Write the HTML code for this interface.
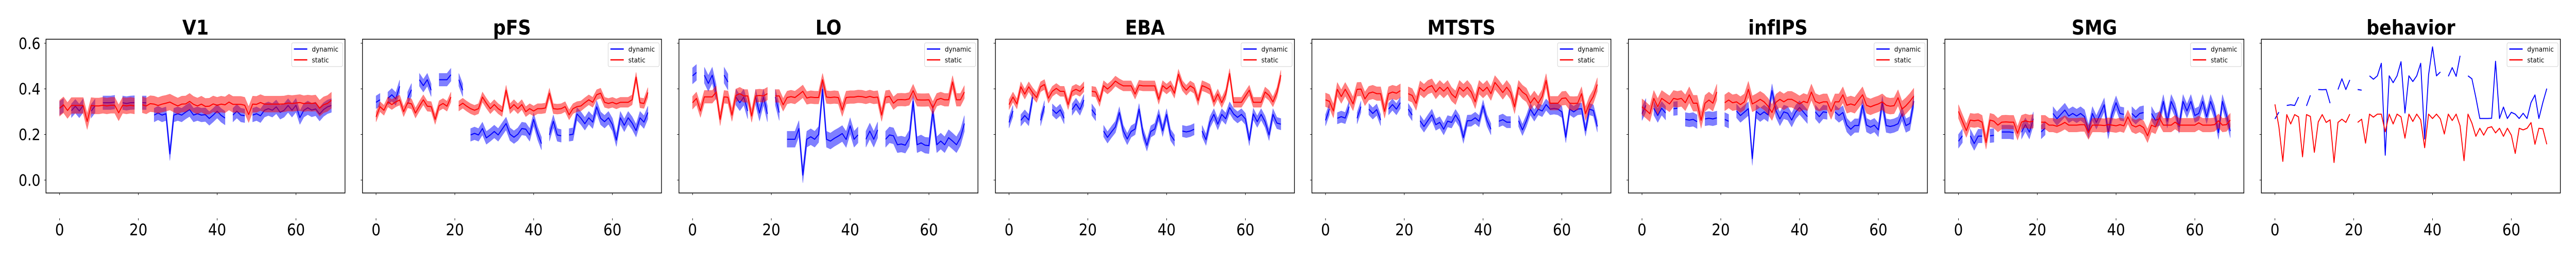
<!DOCTYPE html>
<html><head><meta charset="utf-8">
<style>
html,body{margin:0;padding:0;background:#fff;overflow:hidden;width:100vw;height:100vh;}
svg{display:block;width:100vw;height:100vh;font-family:"DejaVu Sans","Liberation Sans",sans-serif;}
</style></head>
<body>
<svg id="fig" viewBox="0 0 5600 500" preserveAspectRatio="none" xmlns="http://www.w3.org/2000/svg"></svg>
<script>
const titles = ["V1","pFS","LO","EBA","MTSTS","infIPS","SMG","behavior"];
const xTicks = [0,20,40,60];
const yTicks = [0.0,0.2,0.4,0.6];
const yTickLabels = ["0.0","0.2","0.4","0.6"];
const semStatic = [0.035,0.022,0.028,0.022,0.03,0.035,0.03,0];
const semDynamic = [0.03,0.028,0.035,0.025,0.025,0.03,0.03,0];
const N = null;
const staticV1 = [.315,.33,.305,.327,.327,.327,.327,.257,.327,.325,.325,.328,.325,.328,.328,.295,.328,.325,.328,.325,N,.33,.325,.335,.333,.327,.333,.337,.342,.333,.325,.333,.334,.345,.332,.325,.333,.323,.324,.334,.328,.333,.33,.342,.332,.332,.332,.328,.287,.333,.332,.34,.333,.333,.333,.333,.333,.334,.338,.336,.338,.34,.335,.338,.336,.338,.315,.33,.336,.35];
const dynamicV1 = [.315,.328,N,.304,.324,.303,.327,N,.302,.325,N,.339,.339,.339,.342,N,.339,.336,.339,.34,N,.339,.339,N,.285,.294,.285,.291,.115,.285,.291,.285,.298,.309,.285,.291,.285,.287,.27,.285,.302,.284,.272,N,.285,.302,.285,.282,N,.285,.291,.282,.306,.313,.306,.321,.297,.306,.327,.306,.328,.274,.306,.317,.307,.312,.289,.309,.321,.327];
const staticPFS = [.277,.322,.306,.343,.331,.343,.351,.300,.339,.334,.294,.324,.352,.324,.322,.266,.326,.336,.324,.364,N,.325,.337,.324,.313,.306,.313,.364,.337,.313,.331,.313,.301,.394,.313,.331,.313,.331,.300,.313,.303,.313,.313,.316,.381,.313,.311,.313,.322,.286,.313,.322,.325,.339,.352,.341,.374,.381,.341,.336,.341,.334,.341,.341,.341,.352,.451,.339,.336,.384];
const dynamicPFS = [.341,.352,N,.358,.374,.356,.411,N,.358,.396,N,.44,.414,.44,.394,N,.44,.44,.44,.462,N,.44,.394,N,.198,.205,.198,.226,.185,.198,.213,.198,.223,.248,.201,.188,.201,.226,.223,.198,.266,.205,.16,N,.198,.258,.198,.194,N,.198,.201,.29,.271,.247,.273,.254,.321,.271,.256,.273,.243,.175,.273,.24,.273,.25,.217,.273,.254,.296];
const staticLO = [.339,.358,.303,.365,.365,.365,.386,.266,.365,.363,.285,.371,.379,.369,.369,.281,.369,.371,.369,.379,N,.369,.369,.33,.362,.366,.362,.375,.389,.360,.364,.362,.362,.44,.364,.362,.364,.362,.307,.362,.364,.364,.367,.366,.362,.367,.362,.364,.285,.364,.367,.337,.352,.353,.352,.356,.392,.352,.351,.351,.352,.316,.352,.358,.352,.352,.43,.352,.352,.386];
const dynamicLO = [.457,.472,N,.46,.424,.46,.384,N,.46,.43,N,.364,.339,.364,.303,N,.364,.294,.364,.29,N,.364,.296,N,.179,.179,.179,.226,.022,.179,.19,.179,.2,.398,.179,.171,.183,.193,.204,.178,.238,.179,.198,N,.179,.215,.179,.22,N,.179,.198,.194,.155,.158,.153,.183,.345,.155,.163,.153,.151,.301,.155,.171,.155,.186,.171,.155,.186,.248];
const staticEBA = [.331,.364,.334,.409,.377,.409,.383,.362,.409,.419,.359,.389,.402,.389,.389,.331,.389,.398,.389,.409,N,.389,.386,.345,.414,.399,.414,.434,.422,.413,.413,.413,.377,.416,.413,.413,.413,.413,.354,.414,.399,.414,.381,.464,.414,.394,.413,.402,.349,.414,.407,.398,.343,.377,.339,.377,.467,.341,.341,.341,.368,.394,.341,.341,.341,.386,.371,.343,.384,.46];
const dynamicEBA = [.253,.303,N,.262,.283,.263,.364,N,.262,.324,N,.309,.292,.308,.271,N,.309,.334,.309,.351,N,.309,.285,N,.215,.187,.211,.233,.296,.216,.180,.213,.224,.311,.205,.152,.213,.224,.286,.216,.288,.198,.173,N,.215,.211,.215,.223,N,.215,.177,.254,.288,.245,.288,.269,.318,.290,.275,.288,.268,.175,.290,.256,.288,.256,.198,.288,.250,.245];
const staticMTSTS = [.352,.345,.303,.398,.366,.398,.368,.334,.398,.399,.356,.381,.386,.379,.379,.301,.379,.386,.381,.392,N,.379,.371,.336,.405,.39,.407,.414,.386,.407,.39,.407,.377,.361,.407,.39,.407,.386,.343,.407,.39,.407,.379,.428,.407,.384,.407,.384,.321,.407,.386,.373,.337,.361,.337,.367,.437,.337,.337,.337,.358,.360,.337,.336,.337,.379,.291,.337,.367,.419];
const dynamicMTSTS = [.262,.311,N,.271,.278,.272,.322,N,.271,.322,N,.311,.292,.309,.263,N,.311,.331,.311,.339,N,.311,.285,N,.260,.235,.261,.286,.243,.253,.223,.258,.253,.285,.258,.186,.260,.261,.273,.258,.326,.261,.223,N,.258,.265,.254,.254,N,.260,.220,.260,.311,.283,.311,.303,.331,.311,.314,.311,.299,.188,.311,.299,.311,.313,.217,.311,.305,.235];
const staticInfIPS = [.321,.307,.291,.358,.322,.358,.346,.334,.358,.354,.358,.339,.374,.337,.337,.262,.337,.351,.337,.386,N,.339,.351,.339,.343,.331,.343,.398,.334,.343,.354,.343,.324,.296,.341,.354,.343,.354,.354,.345,.334,.345,.339,.386,.345,.337,.343,.343,.301,.343,.343,.374,.328,.334,.328,.351,.374,.328,.321,.328,.334,.343,.328,.324,.326,.361,.311,.326,.345,.368];
const dynamicInfIPS = [.291,.328,N,.315,.283,.315,.294,N,.313,.315,N,.266,.263,.266,.256,N,.268,.271,.268,.273,N,.266,.258,N,.303,.283,.298,.313,.094,.301,.286,.299,.286,.392,.305,.268,.299,.293,.263,.298,.318,.298,.278,N,.299,.278,.299,.296,N,.299,.283,.296,.241,.223,.239,.239,.328,.241,.232,.241,.220,.339,.239,.235,.239,.247,.291,.239,.248,.346];
const staticSMG = [.301,.258,.217,.263,.260,.263,.254,.165,.263,.258,.241,.254,.255,.254,.254,.205,.254,.260,.255,.258,N,.254,.254,.241,.241,.236,.243,.253,.241,.241,.241,.243,.243,.208,.241,.241,.241,.239,.243,.241,.238,.243,.238,.277,.241,.233,.241,.230,.194,.241,.233,.273,.241,.241,.241,.254,.241,.241,.241,.241,.241,.251,.241,.241,.241,.243,.260,.241,.243,.263];
const dynamicSMG = [.170,.194,N,.194,.160,.193,.193,N,.194,.196,N,.211,.211,.211,.208,N,.210,.243,.210,.269,N,.211,.228,N,.292,.269,.288,.307,.281,.292,.281,.292,.278,.213,.292,.253,.290,.330,.210,.290,.339,.292,.288,N,.292,.275,.292,.296,N,.292,.262,.269,.345,.258,.345,.307,.235,.345,.303,.345,.283,.292,.345,.277,.345,.296,.208,.345,.285,.215];
const staticBehavior = [.332,.234,.082,.287,.246,.287,.277,.102,.287,.279,.122,.255,.287,.253,.264,.077,.253,.267,.253,.289,N,.253,.267,.162,.289,.276,.289,.289,.212,.289,.246,.289,.277,.184,.289,.257,.289,.264,.142,.289,.270,.289,.268,.202,.289,.261,.289,.238,.085,.289,.250,.192,.227,.197,.229,.234,.207,.227,.192,.227,.197,.117,.227,.220,.227,.252,.157,.227,.225,.157];
const dynamicBehavior = [.268,.298,N,.327,.330,.327,.364,N,.325,.372,N,.397,.396,.397,.337,N,.397,.444,.397,.439,N,.397,.394,N,.457,.442,.457,.512,.109,.457,.427,.457,.519,.294,.457,.432,.457,.512,.180,.461,.584,.457,.474,N,.455,.493,.455,.545,N,.457,.444,.362,.270,.270,.270,.271,.521,.270,.320,.270,.297,.289,.270,.293,.270,.340,.373,.270,.340,.401];
const staticSeries = [staticV1,staticPFS,staticLO,staticEBA,staticMTSTS,staticInfIPS,staticSMG,staticBehavior];
const dynamicSeries = [dynamicV1,dynamicPFS,dynamicLO,dynamicEBA,dynamicMTSTS,dynamicInfIPS,dynamicSMG,dynamicBehavior];

const NS = "http://www.w3.org/2000/svg";
const svg = document.getElementById('fig');
const AX_TOP = 76, AX_BOT = 374, AX_W = 650, PANEL_STEP = 688, FIRST_LEFT = 100;
const X_MIN = -3.45, X_MAX = 72.45, Y_MIN = -0.0566, Y_MAX = 0.6176;
function mk(tag, attrs, parent){ const e=document.createElementNS(NS,tag); for(const k in attrs) e.setAttribute(k,attrs[k]); (parent||svg).appendChild(e); return e; }
function segments(vals){ const segs=[]; let cur=[]; vals.forEach((v,i)=>{ if(v===null){ if(cur.length) segs.push(cur); cur=[]; } else cur.push(i); }); if(cur.length) segs.push(cur); return segs; }

titles.forEach((title,p)=>{
  const L = FIRST_LEFT + p*PANEL_STEP;
  const xs = x => L + (x - X_MIN)/(X_MAX - X_MIN)*AX_W;
  const ys = v => AX_BOT - (v - Y_MIN)/(Y_MAX - Y_MIN)*(AX_BOT-AX_TOP);
  const g = mk('g',{});
  
  
  const t = mk('text',{x:L+AX_W/2,y:67,'text-anchor':'middle','font-size':39,'font-weight':'bold',fill:'#000'},g);
  t.textContent = title;
  
  
  function drawSeries(vals, sem, color, name){
    const segs = segments(vals);
    segs.forEach(seg=>{
      if(sem>0 && seg.length>1){
        let d = seg.map((i,k)=>(k?'L':'M')+xs(i).toFixed(1)+','+ys(vals[i]+sem).toFixed(1)).join('');
        d += seg.slice().reverse().map(i=>'L'+xs(i).toFixed(1)+','+ys(vals[i]-sem).toFixed(1)).join('')+'Z';
        const b = mk('path',{d:d,fill:color,'fill-opacity':0.5,stroke:color,'stroke-opacity':0.3,'stroke-width':0.8},g);
        
        
      }
    });
    segs.forEach(seg=>{
      if(seg.length>1){
        const d = seg.map((i,k)=>(k?'L':'M')+xs(i).toFixed(1)+','+ys(vals[i]).toFixed(1)).join('');
        const l = mk('path',{d:d,fill:'none',stroke:color,'stroke-width':2,'stroke-linejoin':'round'},g);
        
        
      }
    });
  }
  drawSeries(dynamicSeries[p], semDynamic[p], '#0000ff', 'dynamic');
  drawSeries(staticSeries[p], semStatic[p], '#ff0000', 'static');
  const frame = mk('rect',{x:L,y:AX_TOP,width:AX_W,height:AX_BOT-AX_TOP,fill:'none',stroke:'#000','stroke-width':1.5},g);
  
  
  yTicks.forEach((v,k)=>{
    const y = ys(v);
    const tk = mk('line',{x1:L-4,x2:L,y1:y,y2:y,stroke:'#000','stroke-width':1},g);
    
    
    if(p===0){
      const lb = mk('text',{x:L-12,y:y+11,'text-anchor':'end','font-size':30,fill:'#000'},g);
      lb.textContent = yTickLabels[k];
      
      
    }
  });
  xTicks.forEach(v=>{
    const x = xs(v);
    const tk = mk('line',{x1:x,x2:x,y1:AX_BOT,y2:AX_BOT+4,stroke:'#000','stroke-width':1},g);
    
    
    const tk2 = mk('line',{x1:x,x2:x,y1:423,y2:427,stroke:'#000','stroke-width':1},g);
    
    
    const lb = mk('text',{x:x,y:456,'text-anchor':'middle','font-size':31,fill:'#000'},g);
    lb.textContent = String(v);
    
    
  });
  const lg = mk('g',{},g);
  
  
  mk('rect',{x:L+534,y:83,width:111,height:46,rx:3,fill:'#fff','fill-opacity':0.8,stroke:'#d0d0d0','stroke-width':1},lg);
  [['dynamic','#0000ff',95],['static','#ff0000',116]].forEach(([nm,c,y])=>{
    const e = mk('g',{},lg);
    
    
    mk('line',{x1:L+539,x2:L+568,y1:y,y2:y,stroke:c,'stroke-width':2.5},e);
    const tx = mk('text',{x:L+578,y:y+5,'font-size':13.5,fill:'#000'},e);
    tx.textContent = nm;
  });
});
</script>
</body></html>
